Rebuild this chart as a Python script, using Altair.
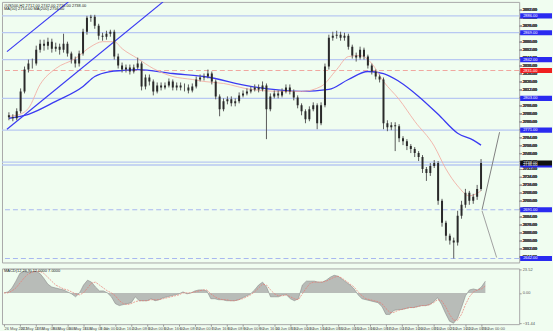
import json
import altair as alt
import pandas as pd

# ---------------- data ----------------
first_open = 2786
closes = [2784, 2783, 2790, 2810, 2832, 2838, 2838, 2852, 2858, 2856,
          2860, 2853, 2855, 2852, 2858, 2848, 2842, 2838, 2848, 2870,
          2884, 2885, 2876, 2866, 2865, 2868, 2870, 2845, 2836, 2832,
          2834, 2830, 2834, 2838, 2815, 2824, 2820, 2810, 2816, 2814,
          2816, 2820, 2814, 2816, 2814, 2814, 2811, 2815, 2822, 2824,
          2825, 2828, 2820, 2805, 2792, 2800, 2802, 2798, 2800, 2806,
          2808, 2810, 2812, 2814, 2812, 2816, 2792, 2805, 2808, 2806,
          2810, 2814, 2810, 2804, 2796, 2790, 2782, 2792, 2796, 2778,
          2796, 2835, 2864, 2866, 2867, 2864, 2866, 2855, 2846, 2844,
          2852, 2845, 2836, 2830, 2825, 2822, 2778, 2774, 2776, 2775,
          2763, 2760, 2755, 2752, 2748, 2744, 2732, 2728, 2735, 2738,
          2700, 2678, 2665, 2660, 2658, 2685, 2696, 2708, 2700, 2704,
          2712, 2738]
highs = [2789, 2787, 2793, 2813, 2835, 2842, 2843, 2856, 2862, 2862,
         2864, 2863, 2859, 2858, 2868, 2860, 2850, 2845, 2851, 2873,
         2886, 2887, 2887, 2878, 2869, 2871, 2872, 2872, 2848, 2839,
         2837, 2837, 2837, 2844, 2840, 2827, 2827, 2822, 2819, 2819,
         2819, 2823, 2822, 2819, 2819, 2818, 2817, 2818, 2825, 2827,
         2828, 2832, 2830, 2822, 2807, 2803, 2805, 2805, 2803, 2809,
         2811, 2813, 2815, 2817, 2817, 2820, 2818, 2808, 2811, 2811,
         2813, 2817, 2817, 2812, 2806, 2798, 2792, 2795, 2799, 2798,
         2799, 2838, 2867, 2870, 2871, 2870, 2869, 2868, 2857, 2849,
         2855, 2854, 2847, 2838, 2832, 2827, 2824, 2781, 2779, 2779,
         2777, 2765, 2762, 2757, 2754, 2750, 2746, 2734, 2738, 2741,
         2740, 2702, 2680, 2667, 2663, 2690, 2700, 2712, 2710, 2707,
         2716, 2742]
lows = [2781, 2780, 2781, 2788, 2808, 2829, 2833, 2836, 2849, 2851,
        2852, 2849, 2850, 2847, 2849, 2845, 2838, 2834, 2835, 2846,
        2867, 2880, 2873, 2862, 2861, 2862, 2865, 2842, 2833, 2829,
        2829, 2827, 2828, 2832, 2811, 2812, 2816, 2806, 2808, 2811,
        2812, 2814, 2811, 2811, 2811, 2810, 2808, 2809, 2813, 2820,
        2821, 2823, 2817, 2802, 2785, 2790, 2797, 2795, 2795, 2798,
        2804, 2806, 2808, 2810, 2809, 2810, 2762, 2790, 2803, 2803,
        2804, 2808, 2807, 2801, 2793, 2786, 2778, 2780, 2790, 2772,
        2776, 2794, 2832, 2861, 2863, 2861, 2861, 2852, 2843, 2840,
        2842, 2842, 2833, 2827, 2822, 2819, 2772, 2770, 2771, 2750,
        2759, 2756, 2751, 2748, 2744, 2740, 2728, 2720, 2725, 2733,
        2696, 2674, 2660, 2656, 2642, 2655, 2682, 2693, 2696, 2697,
        2701, 2710]

ma_fast_bar = [0, 2, 5, 8, 12, 17, 21, 24, 27, 29, 33, 37, 42, 47, 50, 55,
               62, 70, 75, 80, 84, 87, 90, 93, 96, 100, 104, 109, 112, 115, 118, 121]
ma_fast = [2785, 2786, 2793, 2817, 2833, 2843, 2855, 2860, 2860, 2853, 2843, 2833,
           2825, 2822, 2820, 2818, 2812, 2810, 2810, 2815, 2832, 2845, 2846, 2838,
           2820, 2802, 2780, 2755, 2732, 2715, 2705, 2710]

ma_slow_bar = [0, 5, 12, 19, 22, 26, 29, 33, 42, 50, 62, 75, 82, 87, 92, 96,
               100, 105, 110, 115, 119, 121]
ma_slow = [2783, 2787, 2800, 2815, 2825, 2830, 2831, 2832, 2828, 2825, 2815,
           2810, 2812, 2822, 2830, 2828, 2820, 2805, 2787, 2768, 2761, 2756]

channel_a_bar = [-0.5, 15.25]
channel_a = [2850, 2900]
channel_b_bar = [-0.5, 39.5]
channel_b = [2772, 2900]

proj_up_bar = [121.25, 125.75]
proj_up = [2691, 2769]
proj_down_bar = [121.25, 125]
proj_down = [2690, 2643]

level_solid = [2886, 2869, 2842, 2803, 2771, 2736, 2739]
level_dashed = [2691, 2642]
level_red = [2831]
last_price = 2738

price_ticks = list(range(2644, 2900, 8))

macd_hist = [0, 1, 5, 12, 20, 22, 21, 22, 22, 20,
             15, 9, 6, 5, 4, 3, 1, -1, -4, 0,
             8, 13, 11, 6, 2, 2, 0, -4, -11, -13,
             -12, -11, -10, -4, -8, -8, -8, -6, -8, -7,
             -5, -4, -3, -2, -1, 1, -1, 0, 2, 3,
             3, 2, -6, -6, -7, -7, -8, -8, -8, -7,
             -5, -3, -1, 3, 8, 11, 6, -4, -4, -4,
             -2, -2, -6, -8, -6, 8, 12, 12, 12, 11,
             11, 13, 16, 18, 17, 14, 11, 8, 4, -2,
             -6, -7, -8, -9, -10, -14, -22, -22, -18, -17,
             -17, -16, -15, -15, -14, -13, -13, -12, -9, -5,
             -12, -21, -29, -31, -26, -15, -3, 3, 4, 3,
             6, 12]
macd_signal = [0, 0, 2, 5, 10, 15, 19, 21, 22, 22,
               20, 16, 12, 8, 6, 4, 3, 1, -1, -2,
               0, 5, 10, 11, 8, 5, 2, 0, -3, -8,
               -11, -12, -11, -9, -8, -8, -8, -7, -7, -7,
               -6, -5, -4, -3, -2, 0, 0, 0, 1, 2,
               3, 3, -1, -4, -6, -7, -7, -8, -8, -7,
               -6, -4, -2, 1, 5, 9, 8, 3, -1, -3,
               -3, -2, -4, -6, -7, -1, 5, 10, 11, 11,
               11, 12, 14, 16, 17, 15, 12, 9, 6, 1,
               -3, -6, -7, -8, -9, -11, -16, -20, -20, -18,
               -17, -16, -15, -15, -14, -13, -13, -12, -10, -7,
               -8, -14, -22, -28, -28, -22, -12, -4, 1, 3,
               4, 7]
macd_ticks = [23.52, 0.0, -31.44]

date_ticks = list(range(0, 121, 4))
date_labels = ["26 May 2022", "26 May 16:00", "27 May 08:00", "30 May 00:00", "30 May 16:00",
               "31 May 08:00", "1 Jun 00:00", "1 Jun 16:00", "2 Jun 08:00", "3 Jun 00:00",
               "3 Jun 16:00", "6 Jun 08:00", "7 Jun 00:00", "7 Jun 16:00", "8 Jun 08:00",
               "9 Jun 00:00", "9 Jun 16:00", "10 Jun 08:00", "13 Jun 00:00", "13 Jun 16:00",
               "14 Jun 08:00", "15 Jun 00:00", "15 Jun 16:00", "16 Jun 08:00", "17 Jun 00:00",
               "17 Jun 16:00", "20 Jun 08:00", "21 Jun 00:00", "21 Jun 16:00", "22 Jun 08:00",
               "23 Jun 00:00"]

header_1 = "#US500,H2  2712.00 2742.00 2710.00 2738.00"
header_2 = "MA(50) 2710.00  MA(200) 2756.00"
macd_title = "MACD(12,26,9) 12.0000 7.0000"

# ---------------- styling ----------------
BG = "#f0fdf0"
FONT = "Liberation Sans"
BLUE = "#3a3af2"
LEVEL = "#b8c8f2"

n = len(closes)
bars = pd.DataFrame({"i": list(range(n)), "open": [first_open] + closes[:-1],
                     "close": closes, "high": highs, "low": lows})

xscale = alt.Scale(domain=[-0.5, 129.5], nice=False, zero=False)
yscale = alt.Scale(domain=[2638, 2900], nice=False, zero=False)
yaxis = alt.Axis(orient="right", values=price_ticks, format=".2f", labelFontSize=4,
                 labelColor="#555", tickSize=2, tickColor="#999", domain=False, grid=False,
                 labelPadding=1, minExtent=33, maxExtent=33, zindex=0, title=None,
                 labelFont=FONT, labelOverlap=False)


def X(f):
    return alt.X(f, type="quantitative", scale=xscale, axis=None)


def Y(f):
    return alt.Y(f, type="quantitative", scale=yscale, axis=yaxis)


def line_layer(xs, ys, color, width, dash=None, interp="linear"):
    df = pd.DataFrame({"i": xs, "p": ys})
    kw = dict(color=color, strokeWidth=width, clip=True, interpolate=interp)
    if dash:
        kw["strokeDash"] = dash
    return alt.Chart(df).mark_line(**kw).encode(x=X("i"), y=Y("p"))


def rule_layer(vals, color, width, dash=None):
    df = pd.DataFrame({"p": vals})
    kw = dict(color=color, strokeWidth=width)
    if dash:
        kw["strokeDash"] = dash
    return alt.Chart(df).mark_rule(**kw).encode(y=Y("p"))


levels = rule_layer(level_solid, LEVEL, 1.3) + rule_layer(level_dashed, "#a8b8f0", 1.2, [5, 3]) \
    + rule_layer(level_red, "#f0a8a0", 1.2, [5, 3])

wicks = alt.Chart(bars).mark_rule(color="#5a5a5a", strokeWidth=1, clip=True).encode(
    x=X("i"), y=Y("low"), y2="high")
bodies = alt.Chart(bars).mark_bar(size=2, color="#2a2a2a", clip=True).encode(
    x=X("i"), y=Y("open"), y2="close")

fast = line_layer(ma_fast_bar, ma_fast, "#f2b0a6", 0.9, interp="monotone")
slow = line_layer(ma_slow_bar, ma_slow, BLUE, 1.3, interp="monotone")
chan_a = line_layer(channel_a_bar, channel_a, BLUE, 1.2)
chan_b = line_layer(channel_b_bar, channel_b, BLUE, 1.2)
up = line_layer(proj_up_bar, proj_up, "#808080", 1.0)
down = line_layer(proj_down_bar, proj_down, "#a0a0a0", 1.0)

tags = pd.DataFrame({
    "p": level_solid[:-1] + level_dashed + level_red + [last_price],
    "col": ["#2a2af0"] * (len(level_solid) - 1 + len(level_dashed)) + ["#f02020", "#111111"],
})
tag_boxes = alt.Chart(tags).transform_calculate(
    lo="datum.p - 2.6", hi="datum.p + 2.6").mark_rect().encode(
    x=alt.value(521), x2=alt.value(553), y=Y("lo"), y2="hi",
    color=alt.Color("col:N", scale=None))
tag_text = alt.Chart(tags).mark_text(align="left", baseline="middle", fontSize=4,
                                     color="white", font=FONT).encode(
    x=alt.value(524), y=Y("p"), text=alt.Text("p:Q", format=".2f"))

hdr = alt.Chart(pd.DataFrame({"t": [header_1, header_2], "r": [0, 1]})).mark_text(
    align="left", baseline="middle", fontSize=4, color="#222", font=FONT).encode(
    x=alt.value(2), y=alt.Y("r:O", axis=None, scale=alt.Scale(range=[3, 9])), text="t:N")

main = alt.layer(levels, slow, fast, chan_a, chan_b, wicks, bodies, up, down,
                 tag_boxes, tag_text, hdr).resolve_scale(y="independent").properties(
    width=520, height=262)

# ---------------- MACD panel ----------------
mdf = pd.DataFrame({"i": list(range(n)), "h": macd_hist, "s": macd_signal})
mscale = alt.Scale(domain=[-32, 25], nice=False, zero=False)
maxis = alt.Axis(orient="right", values=macd_ticks, format=".2f", labelFontSize=4,
                 labelColor="#555", tickSize=2, tickColor="#999", domain=False, grid=False,
                 labelPadding=1, minExtent=33, maxExtent=33, title=None, labelFont=FONT)
label_expr = json.dumps(date_labels) + "[round(datum.value / 4)]"
xaxis = alt.Axis(values=date_ticks, labelExpr=label_expr, labelFontSize=4, labelAlign="left",
                 labelBaseline="top", labelColor="#555", tickSize=2, tickColor="#999",
                 labelPadding=0, domain=False, grid=False, minExtent=8, maxExtent=8,
                 title=None, labelFont=FONT, labelOverlap=False, labelFlush=False)

hist = alt.Chart(mdf).mark_area(color="#a0a0a0", line={"color": "#8a8a8a", "strokeWidth": 0.6}).encode(
    x=alt.X("i:Q", scale=xscale, axis=xaxis),
    y=alt.Y("h:Q", scale=mscale, axis=maxis), y2=alt.datum(0))
sig = alt.Chart(mdf).mark_line(color="#e87a72", strokeWidth=0.7, strokeDash=[2, 1]).encode(
    x=alt.X("i:Q", scale=xscale, axis=xaxis), y=alt.Y("s:Q", scale=mscale, axis=maxis))
mlabel = alt.Chart(pd.DataFrame({"t": [macd_title]})).mark_text(
    align="left", baseline="middle", fontSize=4, color="#222", font=FONT).encode(
    x=alt.value(2), y=alt.value(3), text="t:N")

macd = alt.layer(hist, sig, mlabel).properties(width=520, height=56)

chart = alt.vconcat(main, macd, spacing=3).properties(
    padding=0, background=BG).configure_view(
    stroke="#a8a8a8", strokeWidth=1, fill=BG)

chart.save("out.html", embed_options={"renderer": "svg", "actions": False})
